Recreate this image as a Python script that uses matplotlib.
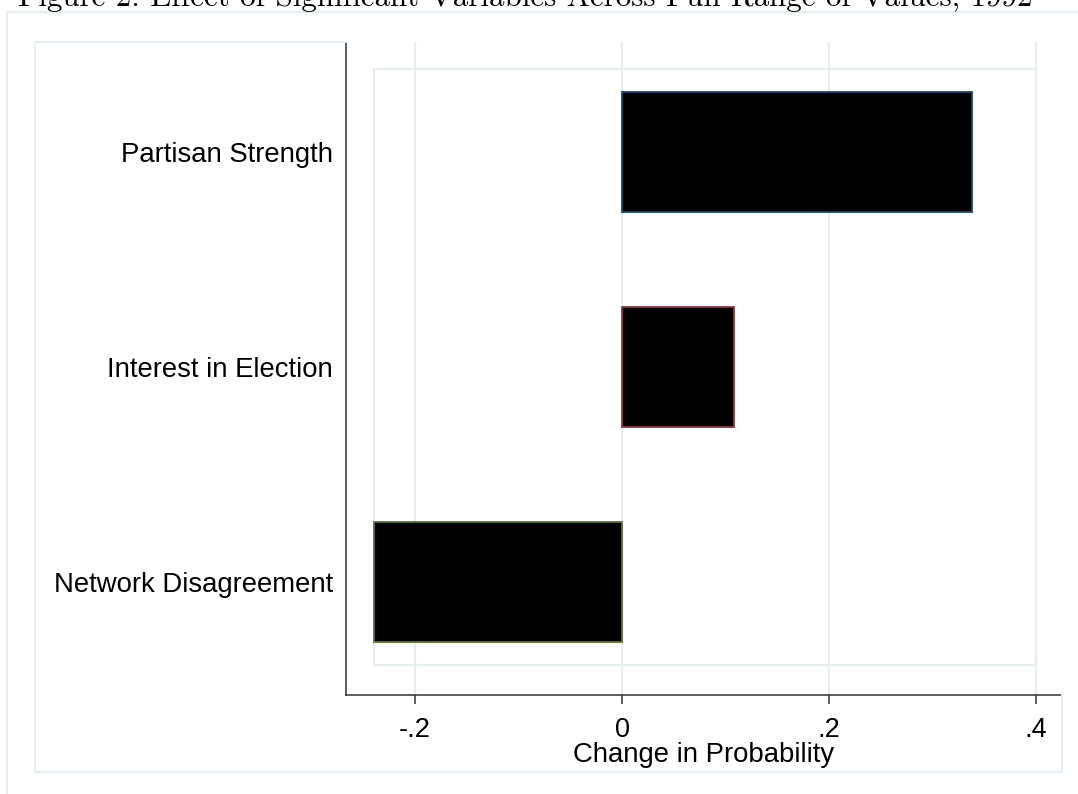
import matplotlib
matplotlib.use("Agg")
import matplotlib.pyplot as plt
from matplotlib.lines import Line2D
from matplotlib.patches import Rectangle

# ---- data ----
categories = ["Partisan Strength", "Interest in Election", "Network Disagreement"]
values = [0.338, 0.108, -0.240]
edge_colors = ["#1a476f", "#90353b", "#55752f"]
xticks = [-0.2, 0.0, 0.2, 0.4]
xtick_labels = ["-.2", "0", ".2", ".4"]
title = "Figure 2: Effect of Significant Variables Across Full Range of Values, 1992"
xlabel = "Change in Probability"

W, H = 1078, 794
fig = plt.figure(figsize=(W / 100, H / 100), dpi=100)
fig.patch.set_facecolor("white")

def fx(px):
    return px / W

def fy(py):
    return 1 - py / H

light = "#e6eef0"
sans = ["Liberation Sans", "DejaVu Sans"]

# outermost page frame (cropped on right/bottom)
fig.add_artist(Line2D([fx(7), fx(7)], [fy(12), fy(800)], color=light, lw=1.5))
fig.add_artist(Line2D([fx(7), fx(1080)], [fy(12), fy(12)], color=light, lw=1.5))
# graph region frame
fig.add_artist(Line2D([fx(35), fx(35)], [fy(42), fy(772)], color=light, lw=1.5))
fig.add_artist(Line2D([fx(35), fx(346)], [fy(42), fy(42)], color=light, lw=1.5))
fig.add_artist(Line2D([fx(35), fx(1062)], [fy(772), fy(772)], color=light, lw=1.5))
fig.add_artist(Line2D([fx(1062), fx(1062)], [fy(695), fy(772)], color=light, lw=1.5))

# title (partly cut off at the top, as in the source page)
fig.text(fx(18), fy(7), title, family="cmr10", fontsize=22.3, ha="left", va="baseline", color="black")

ax = fig.add_axes([fx(346), fy(695), fx(1062) - fx(346), fy(42) - fy(695)])
n = len(categories)
pos = list(range(1, n + 1))

ax.set_xlim(-0.2667, 0.425)
ax.set_ylim(n + 0.5256, 1 - 0.5116)

for x in xticks:
    ax.axvline(x, color=light, lw=1.6, zorder=0)

# plot region frame around data extent
xmin = min(min(values), 0)
xmax = max(xticks)
ax.add_patch(Rectangle((xmin, 1 - 0.386), xmax - xmin, (n - 1) + 2 * 0.386,
                       fill=False, edgecolor=light, lw=1.5, zorder=0.5))

ax.barh(pos, values, height=0.558, color="black", edgecolor=edge_colors, linewidth=1.3, zorder=2)

ax.set_yticks(pos, categories)
ax.set_xticks(xticks, xtick_labels)
for s in ["top", "right"]:
    ax.spines[s].set_visible(False)
for s in ["left", "bottom"]:
    ax.spines[s].set_color("#333333")
    ax.spines[s].set_linewidth(1.1)
ax.tick_params(axis="y", length=0, pad=9.5)
ax.tick_params(axis="x", length=6.5, width=1.1, color="#333333", pad=9)
for lab in ax.get_yticklabels():
    lab.set_family(sans)
    lab.set_fontsize(19.8)
    lab.set_color("black")
for lab in ax.get_xticklabels():
    lab.set_family(sans)
    lab.set_fontsize(19.5)
    lab.set_color("black")
ax.set_xlabel(xlabel, family=sans, fontsize=19.8, labelpad=-0.5)
ax.set_facecolor("white")

fig.savefig("out.png", dpi=100, facecolor="white")
